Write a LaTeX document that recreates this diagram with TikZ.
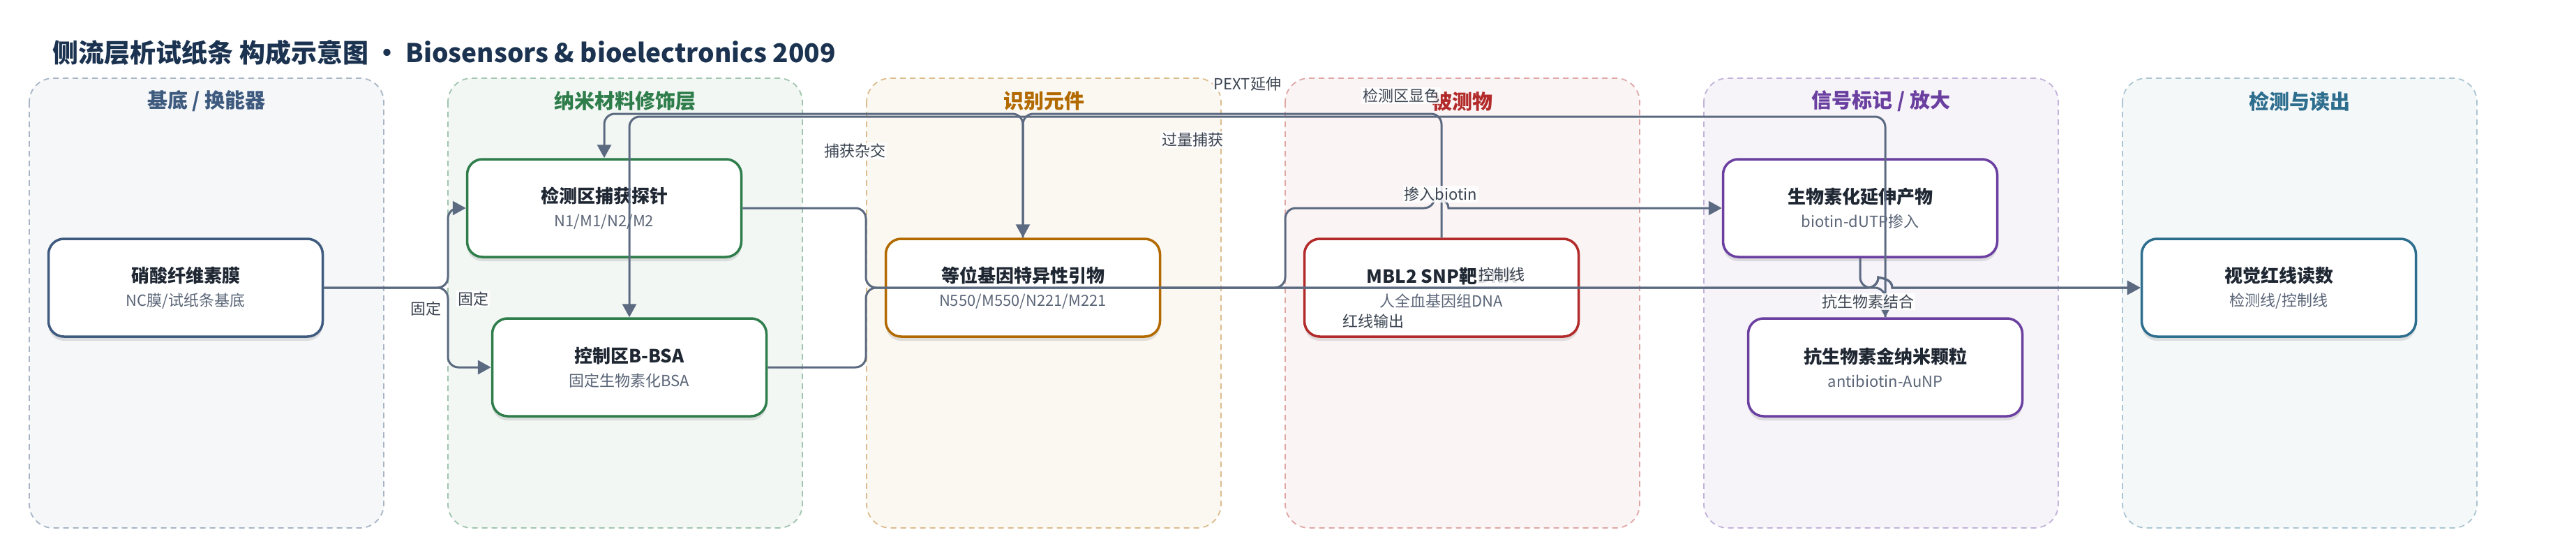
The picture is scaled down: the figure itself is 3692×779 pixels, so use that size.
\documentclass[tikz,border=0pt]{standalone}
\usepackage{fontspec}
\setmainfont{Noto Sans CJK SC}
\usepackage{tikz}
\usepackage{xcolor}
\usetikzlibrary{shadows}
\usetikzlibrary{calc}
\usetikzlibrary{positioning, arrows.meta}

\definecolor{edgegray}{HTML}{5B6A80}
\definecolor{titlenavy}{HTML}{1B3350}
\definecolor{titledark}{HTML}{1F2733}
\definecolor{subgray}{HTML}{5A6577}
\definecolor{labelgray}{HTML}{3A4350}
\definecolor{baseblue}{HTML}{3E5A7E}
\definecolor{nanogreen}{HTML}{2E7D4A}
\definecolor{recogorange}{HTML}{B26A00}
\definecolor{targetred}{HTML}{B22A2A}
\definecolor{signalpurple}{HTML}{6A3FA0}
\definecolor{readteal}{HTML}{2D6E8E}

\newcommand{\nodetitle}[1]{{\fontsize{26}{34}\selectfont\bfseries\color{titledark}#1}}

\begin{document}
\begin{tikzpicture}[x=1pt, y=-1pt]
                % Define the styles for lanes, boxes, connectors and labels
                \tikzstyle{lane}=[dash pattern=on 8pt off 6pt, line width=1.8pt, rounded corners=34pt];
                \tikzstyle{lanetitle}=[font=\fontsize{29}{34}\selectfont\bfseries];
                \tikzstyle{box}=[draw, fill=white, rounded corners=22pt, line width=3.5pt, minimum width=393pt, minimum height=140pt, align=center, text=subgray, font=\fontsize{22}{34}\selectfont, drop shadow={shadow xshift=0pt, shadow yshift=-6pt, fill=black, opacity=0.10}];
                \tikzstyle{edge}=[draw=edgegray, line width=3pt, rounded corners=15pt, -{Triangle[length=19pt, width=20pt]}];
                \tikzstyle{elabel}=[fill=white, fill opacity=0.85, text opacity=1, text=labelgray, font=\fontsize{22}{26}\selectfont, inner sep=2pt];

                % Canvas
                \useasboundingbox[fill=white] (0,0) rectangle (3692,779);

                % Title
                \node[anchor=west, text=titlenavy, font=\fontsize{37}{44}\selectfont\bfseries] (title) at (72,75) {侧流层析试纸条 构成示意图 · Biosensors \& bioelectronics 2009};

                % Draw the six lanes with their titles
                \draw[lane, fill=baseblue!5, draw=baseblue!45] (42,112) rectangle (550,756);
                \node[lanetitle, text=baseblue] at (296,145) {基底 / 换能器};
                \draw[lane, fill=nanogreen!6, draw=nanogreen!45] (642,112) rectangle (1150,756);
                \node[lanetitle, text=nanogreen] at (896,145) {纳米材料修饰层};
                \draw[lane, fill=recogorange!5, draw=recogorange!45] (1242,112) rectangle (1750,756);
                \node[lanetitle, text=recogorange] at (1496,145) {识别元件};
                \draw[lane, fill=targetred!5, draw=targetred!42] (1842,112) rectangle (2350,756);
                \node[lanetitle, text=targetred] at (2096,145) {被测物};
                \draw[lane, fill=signalpurple!6, draw=signalpurple!40] (2442,112) rectangle (2950,756);
                \node[lanetitle, text=signalpurple] at (2696,145) {信号标记 / 放大};
                \draw[lane, fill=readteal!5, draw=readteal!40] (3042,112) rectangle (3550,756);
                \node[lanetitle, text=readteal] at (3296,145) {检测与读出};

                % The components
                \node[box, draw=baseblue] (nc) at (266,412) {\nodetitle{硝酸纤维素膜}\\NC膜/试纸条基底};
                \node[box, draw=nanogreen] (probe) at (866,298) {\nodetitle{检测区捕获探针}\\N1/M1/N2/M2};
                \node[box, draw=nanogreen] (ctrlzone) at (902,526) {\nodetitle{控制区B-BSA}\\固定生物素化BSA};
                \node[box, draw=recogorange] (primer) at (1466,412) {\nodetitle{等位基因特异性引物}\\N550/M550/N221/M221};
                \node[box, draw=targetred] (target) at (2066,412) {\nodetitle{MBL2 SNP靶DNA}\\人全血基因组DNA};
                \node[box, draw=signalpurple] (bioprod) at (2666,298) {\nodetitle{生物素化延伸产物}\\biotin-dUTP掺入};
                \node[box, draw=signalpurple] (aunp) at (2702,526) {\nodetitle{抗生物素金纳米颗粒}\\antibiotin-AuNP};
                \node[box, draw=readteal] (readout) at (3266,412) {\nodetitle{视觉红线读数}\\检测线/控制线};

                % Bend points of the connectors
                \coordinate (split) at (642,412);
                \coordinate (merge) at (1241,412);
                \coordinate (turnup) at (1842,412);
                \coordinate (busone) at (0,163);
                \coordinate (bustwo) at (0,167);
                \coordinate (hopa) at (2056,298);
                \coordinate (hopb) at (2076,298);
                \coordinate (hopc) at (2692,412);
                \coordinate (hopd) at (2712,412);

                % Connectors
                \draw[edge] (nc.east) -- (split) |- (probe.west);
                \draw[edge] (nc.east) -- (split) |- (ctrlzone.west);
                \draw[edge] (primer.north) |- (probe.north |- busone) -- (probe.north);
                \draw[edge] (aunp.north) |- (ctrlzone.north |- bustwo) -- (ctrlzone.north);
                \draw[edge] (target.north) |- (primer.north |- busone) -- (primer.north);
                \draw[edge] (primer.east) -- (turnup) |- (hopa) [sharp corners] .. controls +(0,-14) and +(0,-14) .. (hopb) -- (bioprod.west);
                \draw[edge] (probe.east) -| (merge) -- (hopc) [sharp corners] .. controls +(0,-14) and +(0,-14) .. (hopd) -- (readout.west);
                \draw[edge] (ctrlzone.east) -| (merge) -- (hopc) [sharp corners] .. controls +(0,-14) and +(0,-14) .. (hopd) -- (readout.west);
                \draw[edge] (bioprod.south) |- (aunp.north |- merge) -- (aunp.north);

                % Connector labels
                \node[elabel] (fixa) at (610,442) {固定};
                \node[elabel] (fixb) at (678,428) {固定};
                \node[elabel] (hybrid) at (1225,216) {捕获杂交};
                \node[elabel] (excess) at (1709,200) {过量捕获};
                \node[elabel] (pext) at (1788,120) {PEXT延伸};
                \node[elabel] (colour) at (2008,137) {检测区显色};
                \node[elabel] (incorp) at (2065,278) {掺入biotin};
                \node[elabel] (ctrlline) at (2152,393) {控制线};
                \node[elabel] (redout) at (1968,460) {红线输出};
                \node[elabel] (bind) at (2677,432) {抗生物素结合};
            \end{tikzpicture}
\end{document}
